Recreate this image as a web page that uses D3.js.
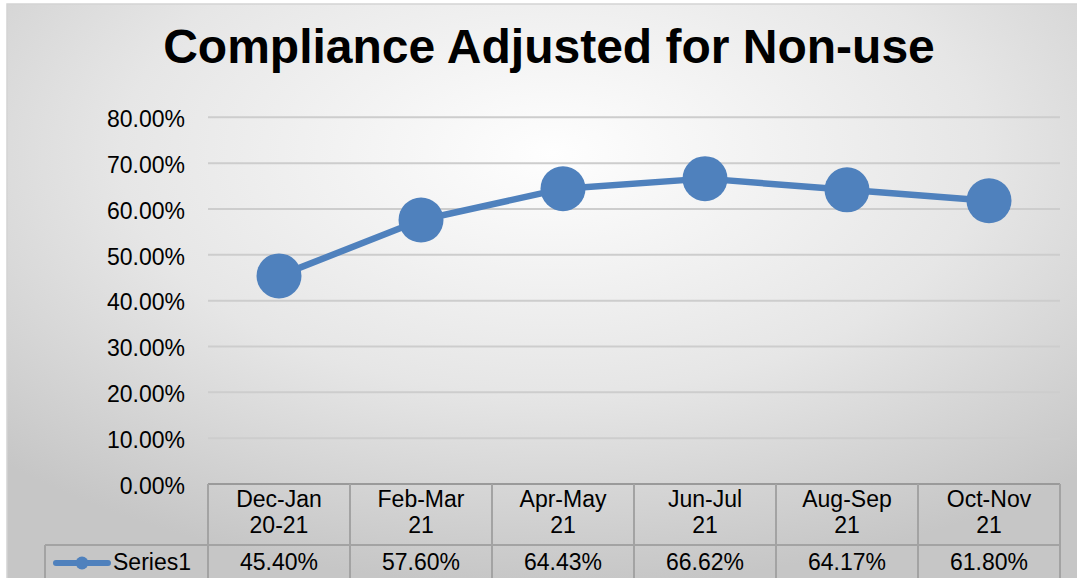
<!DOCTYPE html>
<html><head><meta charset="utf-8">
<script src="https://cdn.jsdelivr.net/npm/d3@7"></script>
<style>html,body{margin:0;padding:0;background:#fff;}svg{display:block;}</style>
</head><body>
<svg id="c" width="1077" height="578"></svg>
<script>
const title = "Compliance Adjusted for Non-use";
const categories = [["Dec-Jan","20-21"],["Feb-Mar","21"],["Apr-May","21"],["Jun-Jul","21"],["Aug-Sep","21"],["Oct-Nov","21"]];
const values = [0.4540, 0.5760, 0.6443, 0.6662, 0.6417, 0.6180];
const valueLabels = ["45.40%","57.60%","64.43%","66.62%","64.17%","61.80%"];
const yTicks = [0,0.1,0.2,0.3,0.4,0.5,0.6,0.7,0.8];
const seriesName = "Series1";

(function(){
const svg = d3.select("#c");
const font = "'Liberation Sans', Arial, sans-serif";
const fs = 23;
const defs = svg.append("defs");
const g = defs.append("radialGradient").attr("id","bg")
  .attr("cx","50%").attr("cy","25%").attr("r","72%");
g.append("stop").attr("offset","0%").attr("stop-color","#fefefe");
g.append("stop").attr("offset","55%").attr("stop-color","#e6e6e6");
g.append("stop").attr("offset","100%").attr("stop-color","#c6c6c6");
svg.append("rect").attr("x",7).attr("y",4).attr("width",1090).attr("height",600)
  .attr("fill","url(#bg)").attr("stroke","#d4d4d4").attr("stroke-width",1.5);

const pLeft = 208, pRight = 1060, pTop = 117.3, pBottom = 484;
const x = d3.scaleBand().domain(d3.range(categories.length)).range([pLeft,pRight]);
const y = d3.scaleLinear().domain([0,0.8]).range([pBottom, pTop]);

svg.append("text").attr("x",549).attr("y",63).attr("text-anchor","middle")
  .attr("font-family",font).attr("font-weight","bold").attr("font-size",48).attr("fill","#000").text(title);

svg.append("g").selectAll("line").data(yTicks.filter(d=>d>0)).join("line")
  .attr("x1",pLeft).attr("x2",pRight).attr("y1",d=>y(d)).attr("y2",d=>y(d))
  .attr("stroke","#cdcdcd").attr("stroke-width",2);

const yAxis = d3.axisLeft(y).tickValues(yTicks).tickFormat(d3.format(".2%")).tickSize(0).tickPadding(23);
const ya = svg.append("g").attr("transform",`translate(${pLeft},0)`).call(yAxis);
ya.select(".domain").remove();
ya.selectAll("text").attr("font-family",font).attr("font-size",fs).attr("fill","#000").attr("dy","0.4em");

const tc = "#a3a3a3";
const tbl = svg.append("g");
tbl.append("line").attr("x1",pLeft).attr("x2",pRight).attr("y1",pBottom).attr("y2",pBottom).attr("stroke","#9a9a9a").attr("stroke-width",2);
tbl.append("line").attr("x1",45).attr("x2",pRight).attr("y1",545).attr("y2",545).attr("stroke",tc).attr("stroke-width",2);
const bounds = d3.range(categories.length+1).map(i => i<categories.length ? x(i) : pRight);
tbl.selectAll("line.v").data(bounds).join("line").attr("class","v")
  .attr("x1",d=>d).attr("x2",d=>d).attr("y1",pBottom).attr("y2",600).attr("stroke",tc).attr("stroke-width",2);
tbl.append("line").attr("x1",45).attr("x2",45).attr("y1",545).attr("y2",600).attr("stroke",tc).attr("stroke-width",2);

const cx = i => x(i) + x.bandwidth()/2;
categories.forEach((c,i)=>{
  const t = tbl.append("text").attr("x",cx(i)).attr("text-anchor","middle")
    .attr("font-family",font).attr("font-size",fs).attr("fill","#000");
  t.append("tspan").attr("x",cx(i)).attr("y",507).text(c[0]);
  t.append("tspan").attr("x",cx(i)).attr("y",533).text(c[1]);
});
tbl.selectAll("text.val").data(valueLabels).join("text").attr("class","val")
  .attr("x",(d,i)=>cx(i)).attr("y",570).attr("text-anchor","middle")
  .attr("font-family",font).attr("font-size",fs).attr("fill","#000").text(d=>d);

const color = "#4f81bd";
tbl.append("line").attr("x1",56).attr("x2",108).attr("y1",563).attr("y2",563)
  .attr("stroke",color).attr("stroke-width",6).attr("stroke-linecap","round");
tbl.append("circle").attr("cx",82).attr("cy",563).attr("r",6.5).attr("fill",color);
tbl.append("text").attr("x",113).attr("y",570).attr("font-family",font).attr("font-size",fs).attr("fill","#000").text(seriesName);

svg.append("path").datum(values)
  .attr("d", d3.line().x((d,i)=>cx(i)).y(d=>y(d)))
  .attr("fill","none").attr("stroke",color).attr("stroke-width",6.5).attr("stroke-linejoin","round");
svg.append("g").selectAll("circle").data(values).join("circle")
  .attr("cx",(d,i)=>cx(i)).attr("cy",d=>y(d)).attr("r",22.5).attr("fill",color);
})();
</script>
</body></html>
